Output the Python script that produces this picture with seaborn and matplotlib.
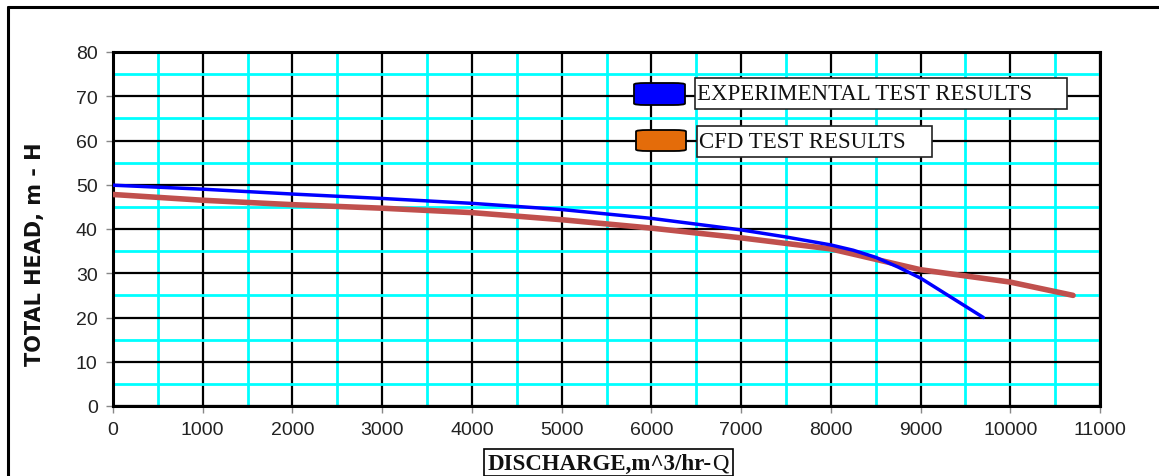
import numpy as np
import pandas as pd
import matplotlib
matplotlib.use("Agg")
import matplotlib.pyplot as plt
import seaborn as sns
from matplotlib.ticker import MultipleLocator
from matplotlib.patches import Rectangle, FancyBboxPatch
from matplotlib.lines import Line2D

# ---- data ----
exp_q = [0, 1000, 2000, 3000, 4000, 5000, 6000, 7000, 7500, 8000, 8250, 8500, 8750, 9000, 9700]
exp_h = [49.9, 49.0, 47.9, 46.9, 45.8, 44.4, 42.4, 39.8, 38.2, 36.4, 35.2, 33.6, 31.4, 28.9, 20.0]
cfd_q = [0, 1000, 2000, 3000, 4000, 5000, 6000, 7000, 8000, 9000, 10000, 10700]
cfd_h = [47.8, 46.5, 45.5, 44.7, 43.7, 42.1, 40.2, 38.0, 35.5, 30.8, 28.0, 25.0]
series_labels = ["EXPERIMENTAL TEST RESULTS", "CFD TEST RESULTS"]
x_ticks = list(range(0, 11001, 1000))
y_ticks = list(range(0, 81, 10))
x_label = "DISCHARGE,m^3/hr-"
x_label_tail = "Q"
y_label = "TOTAL HEAD, m - H"

sns.set_theme(style="white")
plt.rcParams["font.family"] = ["Liberation Sans", "DejaVu Sans"]

fig = plt.figure(figsize=(11.59, 4.77), dpi=100)
W, H = 1159, 477
ax = fig.add_axes([113 / W, 1 - 407 / H, (1100 - 113) / W, (407 - 53) / H])

df_exp = pd.DataFrame({"Q": exp_q, "H": exp_h})
df_cfd = pd.DataFrame({"Q": cfd_q, "H": cfd_h})
sns.lineplot(data=df_cfd, x="Q", y="H", ax=ax, color="#C0504D", linewidth=4.0,
             solid_capstyle="round", solid_joinstyle="round", sort=False, zorder=4)
sns.lineplot(data=df_exp, x="Q", y="H", ax=ax, color="#0000FF", linewidth=2.5,
             solid_capstyle="round", solid_joinstyle="round", sort=False, zorder=5)

ax.set_xlim(0, 11000)
ax.set_ylim(0, 80)
ax.set_xticks(x_ticks)
ax.set_yticks(y_ticks)
ax.set_xticklabels([str(v) for v in x_ticks])
ax.set_yticklabels([str(v) for v in y_ticks])
ax.xaxis.set_minor_locator(MultipleLocator(500))
ax.yaxis.set_minor_locator(MultipleLocator(5))
ax.set_axisbelow(True)
ax.grid(which="minor", color="#00FFFF", linewidth=2.0)
ax.grid(which="major", color="black", linewidth=1.6)
ax.tick_params(which="minor", length=0)
ax.tick_params(which="major", length=5, width=1, color="#888888", direction="out",
               labelsize=14, labelcolor="#222222", pad=6, bottom=True, left=True)
for s in ax.spines.values():
    s.set_color("black")
    s.set_linewidth(2.2)
ax.set_xlabel("")
ax.set_ylabel("")

# y label
fig.text(35 / W, 1 - 254 / H, y_label, rotation=90, ha="center", va="center",
         fontsize=15, fontweight="bold", family=["DejaVu Sans"], color="#111111")

# x label in a box
fig.add_artist(Rectangle((484 / W, 0), (733 - 484) / W, (477 - 450) / H,
                         transform=fig.transFigure, facecolor="white",
                         edgecolor="black", linewidth=1.2))
t1 = fig.text(488 / W, 1 - 464 / H, x_label, ha="left", va="center",
              fontsize=16.5, fontweight="bold", family=["Liberation Serif"], color="#111111")
fig.canvas.draw()
bb = t1.get_window_extent()
fig.text(bb.x1 / W, 1 - 464 / H, x_label_tail, ha="left", va="center",
         fontsize=16.5, family=["Liberation Serif"], color="#111111")

# legend (manual)
def px2ax(x, y):
    return ((x - 113) / 987, (407 - y) / 354)

entries = [
    (series_labels[0], "#0000FF", (634, 84, 685, 106), (695, 79, 1067, 110)),
    (series_labels[1], "#E46C0A", (636, 131, 686, 152), (697, 127, 932, 158)),
]
for lab, col, pb, tb in entries:
    x0, y1 = px2ax(pb[0], pb[3])
    x1, y0 = px2ax(pb[2], pb[1])
    ax.add_patch(FancyBboxPatch((x0, y1), x1 - x0, y0 - y1,
                                boxstyle="round,pad=0,rounding_size=0.012",
                                transform=ax.transAxes, facecolor=col,
                                edgecolor="black", linewidth=1.3, zorder=10,
                                clip_on=False, mutation_aspect=354 / 987))
    bx0, by1 = px2ax(tb[0], tb[3])
    bx1, by0 = px2ax(tb[2], tb[1])
    ax.add_patch(Rectangle((bx0, by1), bx1 - bx0, by0 - by1, transform=ax.transAxes,
                           facecolor="white", edgecolor="#222222", linewidth=1.2,
                           zorder=10, clip_on=False))
    ax.text(bx0 + 2 / 987, (by0 + by1) / 2, lab, transform=ax.transAxes,
            ha="left", va="center", fontsize=16.5, family=["Liberation Serif"],
            color="#111111", zorder=11)

# outer frame (left and top edges visible)
fig.add_artist(Line2D([8 / W, 8 / W], [0, 1 - 8 / H], transform=fig.transFigure,
                      color="black", linewidth=2.2))
fig.add_artist(Line2D([8 / W, 1], [1 - 8 / H, 1 - 8 / H], transform=fig.transFigure,
                      color="black", linewidth=2.2))

fig.savefig("out.png", dpi=100)
